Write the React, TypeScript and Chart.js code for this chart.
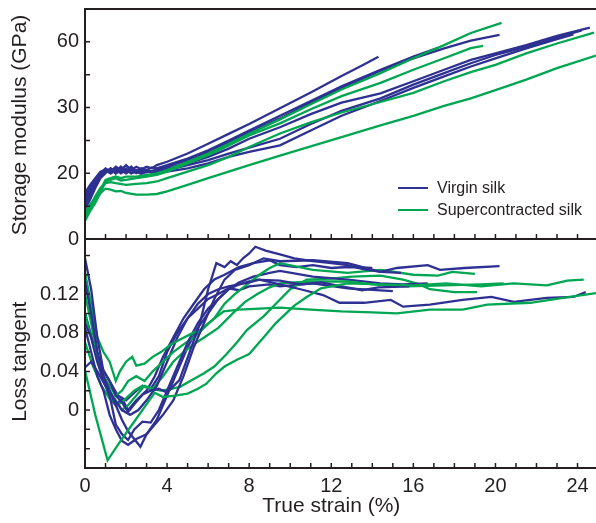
import React, { useEffect, useRef } from "react";
import { Chart, registerables } from "chart.js";

Chart.register(...registerables);

type Pt = [number, number];

const BLUE = "#2e3192";
const GREEN = "#00a651";
const INK = "#231f20";
const FONT = "'Liberation Sans', Arial, Helvetica, sans-serif";

// ---- axes ----
const STRAIN_TICKS = [0, 1, 2, 3, 4, 5, 6, 7, 8, 9, 10, 11, 12, 13, 14, 15, 16, 17, 18, 19, 20, 21, 22, 23, 24];
const STRAIN_LABEL_VALUES = [0, 4, 8, 12, 16, 20, 24];
const STRAIN_LABEL_TEXT = ["0", "4", "8", "12", "16", "20", "24"];

const MODULUS_TICKS = [0, 10, 20, 30, 40, 50, 60, 70];
const MODULUS_LABEL_VALUES = [0, 20, 40, 60];
const MODULUS_LABEL_TEXT = ["0", "20", "30", "60"];

const TAN_TICKS = [-0.06, -0.04, -0.02, 0, 0.02, 0.04, 0.06, 0.08, 0.1, 0.12, 0.14, 0.16];
const TAN_LABEL_VALUES = [0, 0.04, 0.08, 0.12];
const TAN_LABEL_TEXT = ["0", "0.04", "0.08", "0.12"];

const LEGEND_LABELS = ["Virgin silk", "Supercontracted silk"];

// ---- storage modulus (top panel) ----
const modulusVirginA: Pt[] = [[0,12],[0.25,15],[0.5,17.5],[0.75,20],[1,21.5],[1.25,20.5],[1.5,22],[1.75,21],[2,22.5],[2.25,21],[2.5,22],[2.75,21.2],[3,22],[3.25,21.5],[3.5,22.5],[4,23.5],[5,26],[6,29],[7,32],[8,35],[9.5,39.8],[11,44.6],[12.5,49.6],[13.5,52.8],[14.3,55.5]];
const modulusVirginF: Pt[] = [[0,10],[0.25,13],[0.5,16],[0.75,19],[1,20.5],[1.25,21.5],[1.5,20],[1.75,21.5],[2,20.5],[2.25,22],[2.5,20.5],[2.75,21.5],[3,21],[3.25,21.8],[3.5,21.5],[4,22.5],[5,24.5],[6,27],[7,30],[8,33],[9.5,37.5],[11,42],[12.5,46.5],[14.4,51.5],[16,55.5],[17.2,58.2]];
const modulusVirginB: Pt[] = [[0,14],[0.25,16.5],[0.5,18.5],[0.75,20.5],[1,21],[1.25,20],[1.5,21.5],[1.75,20.5],[2,21.5],[2.25,20],[2.5,21],[2.75,20.3],[3,21],[3.25,20.5],[3.5,21.2],[4,22],[5,24],[6,26.5],[7,29.5],[8,32.5],[9.5,36.7],[11,41.5],[12.5,46],[14.4,51.2],[16,55],[17.5,58],[18.8,60.4],[20.2,62.1]];
const modulusVirginC: Pt[] = [[0,11],[0.25,14],[0.5,17],[0.75,19.5],[1,20.5],[1.25,21],[1.5,20],[1.75,21],[2,20],[2.25,21],[2.5,20],[2.75,20.8],[3,20.3],[3.5,21],[4,21.5],[5,23],[6,25],[7,27.5],[8,30.5],[9.5,34],[11,38],[12.5,41.5],[14.4,44.3],[16,48],[17.5,51.5],[18.8,54.5],[20,56.5],[21.5,59],[23,61.8],[24.6,64.3]];
const modulusVirginD: Pt[] = [[0,9],[0.25,12],[0.5,15.5],[0.75,18.5],[1,20],[1.25,21.5],[1.5,20.5],[1.75,22],[2,20.5],[2.25,21.5],[2.5,20.5],[2.75,21.2],[3,20.5],[3.5,20.8],[4,21],[5,22.5],[6,24],[7,26],[8,27.8],[9.5,30.5],[11,35],[12.5,39],[14.4,42.8],[16,47],[17.5,50.5],[18.8,53.5],[20,56],[21.5,58.5],[23,61.3],[24.2,63.5]];
const modulusVirginE: Pt[] = [[0,13],[0.25,15.5],[0.5,18],[0.75,20],[1,21],[1.25,20],[1.5,21],[1.75,20],[2,21],[2.25,20],[2.5,20.5],[2.75,19.8],[3,20.5],[3.5,20.3],[4,20.5],[5,21.5],[6,23],[7,25],[8,26.5],[9.5,28.5],[11,33],[12.5,37.5],[14.4,42],[16,46],[17.5,49.5],[18.8,52.5],[20,55],[21.5,58],[23,60.8],[23.8,62.3]];

const modulusSuperG1: Pt[] = [[0,6],[0.25,9],[0.5,12],[0.75,15],[1,18],[1.25,18.5],[1.5,19],[1.75,18.5],[2,19],[2.5,19],[3,19.5],[3.5,20],[4,21],[5,23.5],[6,26],[7,29],[8,32],[9.5,36.4],[11,41],[12.5,45.5],[14.4,50.5],[16,55],[17.5,59],[18.8,62.7],[20.3,65.8]];
const modulusSuperG2: Pt[] = [[0,5.5],[0.25,8.5],[0.5,11],[0.75,14],[1,17.5],[1.25,18],[1.5,18.5],[1.75,17.8],[2,18],[2.5,18.5],[3,19],[3.5,19.5],[4,20.5],[5,23],[6,25.5],[7,28.5],[8,31.5],[9.5,35.2],[11,39.5],[12.5,43.5],[14.4,47.5],[16,51.5],[17.5,55],[18.8,58.1],[19.4,58.8]];
const modulusSuperG3: Pt[] = [[0,7],[0.25,10],[0.5,13],[0.75,15.5],[1,17],[1.25,17.3],[1.5,17],[2,16.5],[2.5,16.8],[3,17],[3.5,17.5],[4,18.5],[5,20.5],[6,22.5],[7,25],[8,28],[9.5,32.1],[11,35.5],[12.5,38.5],[14.4,41.7],[16,44.5],[17.5,48],[18.8,50.8],[20,53],[21.5,56.5],[23,59.5],[24.8,62.8]];
const modulusSuperG4: Pt[] = [[0,8],[0.25,10.5],[0.5,12.5],[0.75,14],[1,15.3],[1.25,15],[1.5,14.5],[1.75,14.6],[2,14],[2.5,13.5],[3,13.5],[3.5,13.7],[4,14.5],[5,16.5],[6,18.5],[7,20.5],[8,22.5],[9.5,25.4],[11,28.2],[12.5,31],[14.4,34.6],[16,37.5],[17.5,40.5],[18.8,42.8],[20,45.3],[21.5,48.5],[23,52],[24.9,55.8]];

// ---- loss tangent (bottom panel) ----
const tanVirgin1: Pt[] = [[0,0.157],[0.3,0.125],[0.6,0.075],[0.9,0.04],[1.2,0.03],[1.5,0.015],[1.8,0.008],[2.1,-0.002],[2.4,0.006],[2.8,0.016],[3.2,0.02],[3.6,0.022],[4.0,0.018],[4.6,0.031],[5.1,0.06],[5.6,0.09],[6.0,0.125],[6.4,0.152],[6.8,0.148],[7.1,0.154],[7.4,0.15],[7.7,0.157],[8.0,0.162],[8.3,0.169],[8.8,0.165],[9.5,0.161],[10.2,0.157],[11.1,0.154],[12,0.152],[12.8,0.15],[13.5,0.146],[14.4,0.143],[15.4,0.142]];
const tanVirgin2: Pt[] = [[0,0.133],[0.3,0.1],[0.6,0.06],[0.9,0.035],[1.2,0.02],[1.5,0.005],[1.8,-0.01],[2.1,-0.022],[2.4,-0.03],[2.7,-0.038],[3.0,-0.025],[3.4,-0.015],[3.8,-0.005],[4.3,0.01],[4.8,0.035],[5.3,0.065],[5.8,0.09],[6.3,0.115],[6.8,0.135],[7.3,0.145],[8.0,0.15],[8.7,0.157],[9.5,0.154],[11.1,0.155],[12.8,0.152],[14.4,0.143],[15.2,0.147],[16.7,0.15],[17.3,0.145],[18.5,0.147],[20.2,0.149]];
const tanVirgin3: Pt[] = [[0,0.09],[0.3,0.075],[0.6,0.05],[0.9,0.03],[1.2,0.015],[1.5,-0.015],[1.8,-0.025],[2.1,-0.031],[2.4,-0.02],[2.8,-0.012],[3.2,-0.013],[3.6,0.0],[4.0,0.02],[4.5,0.045],[5.0,0.07],[5.5,0.09],[6.0,0.105],[6.5,0.115],[7,0.125],[7.5,0.13],[8,0.132],[8.5,0.135],[9.5,0.13],[10.5,0.125],[11.6,0.119],[12.4,0.111],[13.6,0.111],[14.9,0.114],[15.5,0.107],[16.8,0.109],[18.4,0.114],[19.8,0.117],[20.9,0.112],[22.5,0.116],[23.8,0.117],[24.4,0.122]];
const tanVirgin4: Pt[] = [[0,0.044],[0.3,0.05],[0.6,0.04],[1.0,0.025],[1.4,0.012],[1.8,0.0],[2.2,-0.005],[2.6,0.0],[3.0,0.01],[3.5,0.025],[4.0,0.05],[4.5,0.075],[5.0,0.095],[5.5,0.11],[6.0,0.12],[6.5,0.125],[7.0,0.128],[7.5,0.13],[8.3,0.135],[9.5,0.134],[10.5,0.13],[11.5,0.132],[12.5,0.128],[13.5,0.124],[14.3,0.127],[15.8,0.128]];
const tanVirgin5: Pt[] = [[0,0.085],[0.3,0.06],[0.6,0.035],[0.9,0.02],[1.2,-0.005],[1.5,-0.02],[1.8,-0.032],[2.1,-0.036],[2.5,-0.03],[3.0,-0.025],[3.5,-0.01],[4.0,0.015],[4.5,0.04],[5.0,0.065],[5.5,0.085],[6,0.1],[6.5,0.115],[7,0.125],[7.5,0.132],[8.2,0.138],[9,0.142],[9.5,0.144],[11.1,0.138],[12.8,0.135],[14.4,0.131],[15.5,0.13],[16.7,0.131]];
const tanVirgin6: Pt[] = [[0,0.14],[0.3,0.1],[0.6,0.06],[0.9,0.035],[1.2,0.012],[1.5,0.005],[1.8,0.012],[2.1,0.0],[2.5,0.01],[3.0,0.02],[3.4,0.035],[3.8,0.055],[4.3,0.075],[4.8,0.095],[5.3,0.11],[5.8,0.125],[6.3,0.135],[6.8,0.14],[7.5,0.148],[8.2,0.152],[9.0,0.155],[9.5,0.15],[10.3,0.148],[11.1,0.15],[12,0.147],[12.8,0.148],[14,0.147]];
const tanVirgin7: Pt[] = [[0,0.1],[0.4,0.07],[0.8,0.045],[1.2,0.03],[1.6,0.015],[2.0,0.01],[2.4,0.018],[2.8,0.025],[3.2,0.022],[3.6,0.035],[4.0,0.06],[4.5,0.08],[5.0,0.095],[5.5,0.105],[6.0,0.115],[6.5,0.12],[7.0,0.126],[7.5,0.124],[8.0,0.128],[9.0,0.13],[9.5,0.128],[11.1,0.131],[12.8,0.126],[15.0,0.123]];

const tanSuper1: Pt[] = [[0,0.041],[0.5,-0.005],[1.1,-0.052],[1.7,-0.033],[2.3,-0.015],[2.9,0.003],[3.4,0.018],[3.8,0.0135],[4.4,0.015],[5.0,0.017],[5.5,0.022],[5.9,0.027],[6.4,0.038],[6.8,0.045],[7.4,0.052],[8.0,0.058],[8.7,0.075],[9.3,0.09],[9.8,0.1],[10.2,0.108],[10.8,0.117],[11.5,0.126],[12.8,0.131],[14.4,0.13],[16,0.129],[17.6,0.131],[19.3,0.128],[20.9,0.131],[22.5,0.129],[23.5,0.134],[24.3,0.135]];
const tanSuper2: Pt[] = [[0,0.142],[0.3,0.11],[0.6,0.075],[0.9,0.06],[1.2,0.05],[1.5,0.03],[1.7,0.04],[2.0,0.05],[2.3,0.055],[2.5,0.046],[2.9,0.048],[3.3,0.055],[3.7,0.06],[4.2,0.068],[4.63,0.073],[5.1,0.078],[5.6,0.083],[6.2,0.093],[6.75,0.102],[7.5,0.104],[8.5,0.105],[9.5,0.106],[11,0.104],[12.5,0.102],[14,0.101],[15.2,0.1],[16.8,0.104],[18.4,0.104],[19.6,0.109],[21.7,0.111],[23.3,0.116],[24.9,0.121]];
const tanSuper3: Pt[] = [[0,0.1],[0.3,0.075],[0.6,0.05],[0.9,0.035],[1.2,0.025],[1.5,0.015],[1.8,0.02],[2.1,0.03],[2.5,0.035],[2.9,0.03],[3.3,0.04],[3.8,0.05],[4.3,0.06],[4.8,0.068],[5.3,0.075],[5.8,0.085],[6.3,0.095],[6.8,0.11],[7.3,0.12],[7.9,0.13],[8.5,0.14],[9.0,0.147],[9.5,0.152],[11.1,0.145],[12.8,0.142],[14.4,0.145],[16,0.14],[17.2,0.139],[17.9,0.143],[19,0.141]];
const tanSuper4: Pt[] = [[0,0.12],[0.3,0.09],[0.6,0.055],[0.9,0.035],[1.2,0.02],[1.5,0.01],[1.8,0.0],[2.1,0.005],[2.5,0.015],[2.9,0.025],[3.3,0.022],[3.8,0.035],[4.3,0.05],[4.8,0.06],[5.3,0.068],[5.8,0.075],[6.5,0.085],[7.2,0.1],[7.8,0.112],[8.4,0.12],[9,0.127],[9.5,0.131],[11,0.133],[12.8,0.133],[14,0.13],[15.7,0.128],[17.5,0.129],[19.3,0.13],[20.4,0.131]];
const tanSuper5: Pt[] = [[0,0.07],[0.4,0.045],[0.8,0.025],[1.2,0.012],[1.6,0.005],[2.0,0.012],[2.4,0.02],[2.8,0.025],[3.2,0.022],[3.7,0.02],[4.2,0.022],[4.63,0.024],[5.3,0.032],[5.8,0.038],[6.3,0.045],[6.9,0.058],[7.4,0.07],[7.9,0.083],[8.7,0.097],[9.3,0.11],[10,0.125],[10.8,0.135],[12,0.136],[13,0.138],[14.4,0.139],[15.5,0.135],[16.3,0.13],[16.8,0.125],[18,0.122],[19.1,0.122]];

const TOP_VIRGIN = [modulusVirginA, modulusVirginF, modulusVirginB, modulusVirginC, modulusVirginD, modulusVirginE];
const TOP_SUPER = [modulusSuperG1, modulusSuperG2, modulusSuperG3, modulusSuperG4];
const BOT_VIRGIN = [tanVirgin1, tanVirgin2, tanVirgin3, tanVirgin4, tanVirgin5, tanVirgin6, tanVirgin7];
const BOT_SUPER = [tanSuper1, tanSuper2, tanSuper3, tanSuper4, tanSuper5];

function labelFor(v: number, values: number[], texts: string[]): string {
  const i = values.findIndex((u) => Math.abs(u - v) < 1e-6);
  return i >= 0 ? texts[i] : "";
}

function toDatasets(virgin: Pt[][], superc: Pt[][]) {
  const mk = (pts: Pt[], color: string) => ({
    data: pts.map(([x, y]) => ({ x, y })),
    borderColor: color,
    backgroundColor: color,
    borderWidth: 2.3,
    pointRadius: 0,
    tension: 0,
    fill: false,
  });
  const out: any[] = [];
  const n = Math.max(virgin.length, superc.length);
  for (let i = 0; i < n; i++) {
    if (virgin[i]) out.push(mk(virgin[i], BLUE));
    if (superc[i]) out.push(mk(superc[i], GREEN));
  }
  return out;
}

function zeroPad(s: any) {
  s.paddingTop = 0;
  s.paddingBottom = 0;
  s.paddingLeft = 0;
  s.paddingRight = 0;
}

function makeFramePlugin(panel: "top" | "bottom") {
  return {
    id: "frame-" + panel,
    afterDraw(chart: any) {
      const { ctx, chartArea } = chart;
      const { left, right, top, bottom } = chartArea;
      const xs = chart.scales.x;
      const ys = chart.scales.y;
      ctx.save();
      ctx.strokeStyle = INK;
      ctx.lineWidth = 1.5;
      ctx.beginPath();
      for (const v of STRAIN_TICKS) {
        const x = xs.getPixelForValue(v);
        ctx.moveTo(x, bottom);
        ctx.lineTo(x, bottom - 5);
      }
      const yt = panel === "top" ? MODULUS_TICKS : TAN_TICKS;
      for (const v of yt) {
        const y = ys.getPixelForValue(v);
        ctx.moveTo(left, y);
        ctx.lineTo(left + 5, y);
      }
      ctx.stroke();
      ctx.lineWidth = 2;
      ctx.beginPath();
      ctx.moveTo(left, top - 1);
      ctx.lineTo(left, bottom + 1);
      ctx.moveTo(left - 1, top);
      ctx.lineTo(right, top);
      ctx.moveTo(left - 1, bottom);
      ctx.lineTo(right, bottom);
      ctx.stroke();

      ctx.fillStyle = INK;
      ctx.font = `21px ${FONT}`;
      ctx.textAlign = "center";
      ctx.textBaseline = "middle";
      if (panel === "top") {
        ctx.save();
        ctx.translate(20, (top + bottom) / 2 + 1);
        ctx.rotate(-Math.PI / 2);
        ctx.fillText("Storage modulus (GPa)", 0, 0);
        ctx.restore();

        // legend
        const colors = [BLUE, GREEN];
        const rows = [188, 210];
        ctx.font = `16px ${FONT}`;
        ctx.textAlign = "left";
        for (let i = 0; i < LEGEND_LABELS.length; i++) {
          ctx.strokeStyle = colors[i];
          ctx.lineWidth = 2;
          ctx.beginPath();
          ctx.moveTo(398, rows[i]);
          ctx.lineTo(428, rows[i]);
          ctx.stroke();
          ctx.fillStyle = INK;
          ctx.fillText(LEGEND_LABELS[i], 437, rows[i] + 1);
        }
      } else {
        ctx.save();
        ctx.translate(20, ys.getPixelForValue(0.05));
        ctx.rotate(-Math.PI / 2);
        ctx.fillText("Loss tangent", 0, 0);
        ctx.restore();
        ctx.fillText("True strain (%)", xs.getPixelForValue(12), bottom + 38);
      }
      ctx.restore();
    },
  };
}

const tickFont = { family: FONT, size: 20 };

export default function App() {
  const topRef = useRef<HTMLCanvasElement>(null);
  const botRef = useRef<HTMLCanvasElement>(null);

  useEffect(() => {
    const topChart = new Chart(topRef.current as HTMLCanvasElement, {
      type: "line",
      data: { datasets: toDatasets(TOP_VIRGIN, TOP_SUPER) },
      options: {
        animation: false,
        responsive: false,
        maintainAspectRatio: false,
        devicePixelRatio: 1,
        events: [],
        layout: { padding: { top: 9, bottom: 23, left: 0, right: 0 } },
        plugins: { legend: { display: false }, tooltip: { enabled: false } },
        scales: {
          x: { type: "linear", min: 0, max: 24.9, display: false },
          y: {
            type: "linear",
            min: 0,
            max: 70,
            afterBuildTicks: (s: any) => {
              s.ticks = MODULUS_TICKS.map((v) => ({ value: v }));
            },
            afterFit: (s: any) => {
              s.width = 85;
              zeroPad(s);
            },
            grid: { display: false, drawTicks: false },
            border: { display: false },
            ticks: {
              autoSkip: false,
              font: tickFont,
              color: INK,
              padding: 6,
              callback: (v: any) => labelFor(Number(v), MODULUS_LABEL_VALUES, MODULUS_LABEL_TEXT),
            },
          },
        },
      } as any,
      plugins: [makeFramePlugin("top")],
    });

    const botChart = new Chart(botRef.current as HTMLCanvasElement, {
      type: "line",
      data: { datasets: toDatasets(BOT_VIRGIN, BOT_SUPER) },
      options: {
        animation: false,
        responsive: false,
        maintainAspectRatio: false,
        devicePixelRatio: 1,
        events: [],
        layout: { padding: { top: 0, bottom: 0, left: 0, right: 0 } },
        plugins: { legend: { display: false }, tooltip: { enabled: false } },
        scales: {
          x: {
            type: "linear",
            min: 0,
            max: 24.9,
            afterBuildTicks: (s: any) => {
              s.ticks = STRAIN_TICKS.map((v) => ({ value: v }));
            },
            afterFit: (s: any) => {
              s.height = 55;
              zeroPad(s);
            },
            grid: { display: false, drawTicks: false },
            border: { display: false },
            ticks: {
              autoSkip: false,
              maxRotation: 0,
              minRotation: 0,
              font: tickFont,
              color: INK,
              padding: 6,
              callback: (v: any) => labelFor(Number(v), STRAIN_LABEL_VALUES, STRAIN_LABEL_TEXT),
            },
          },
          y: {
            type: "linear",
            min: -0.06,
            max: 0.177,
            afterBuildTicks: (s: any) => {
              s.ticks = TAN_TICKS.map((v) => ({ value: v }));
            },
            afterFit: (s: any) => {
              s.width = 85;
              zeroPad(s);
            },
            grid: { display: false, drawTicks: false },
            border: { display: false },
            ticks: {
              autoSkip: false,
              font: tickFont,
              color: INK,
              padding: 6,
              callback: (v: any) => labelFor(Number(v), TAN_LABEL_VALUES, TAN_LABEL_TEXT),
            },
          },
        },
      } as any,
      plugins: [makeFramePlugin("bottom")],
    });

    return () => {
      topChart.destroy();
      botChart.destroy();
    };
  }, []);

  return (
    <div style={{ position: "absolute", left: 0, top: 0, width: 596, height: 523, background: "#ffffff", overflow: "hidden" }}>
      <canvas ref={topRef} width={596} height={262} style={{ position: "absolute", left: 0, top: 0, width: 596, height: 262 }} />
      <canvas ref={botRef} width={596} height={284} style={{ position: "absolute", left: 0, top: 239, width: 596, height: 284 }} />
    </div>
  );
}
